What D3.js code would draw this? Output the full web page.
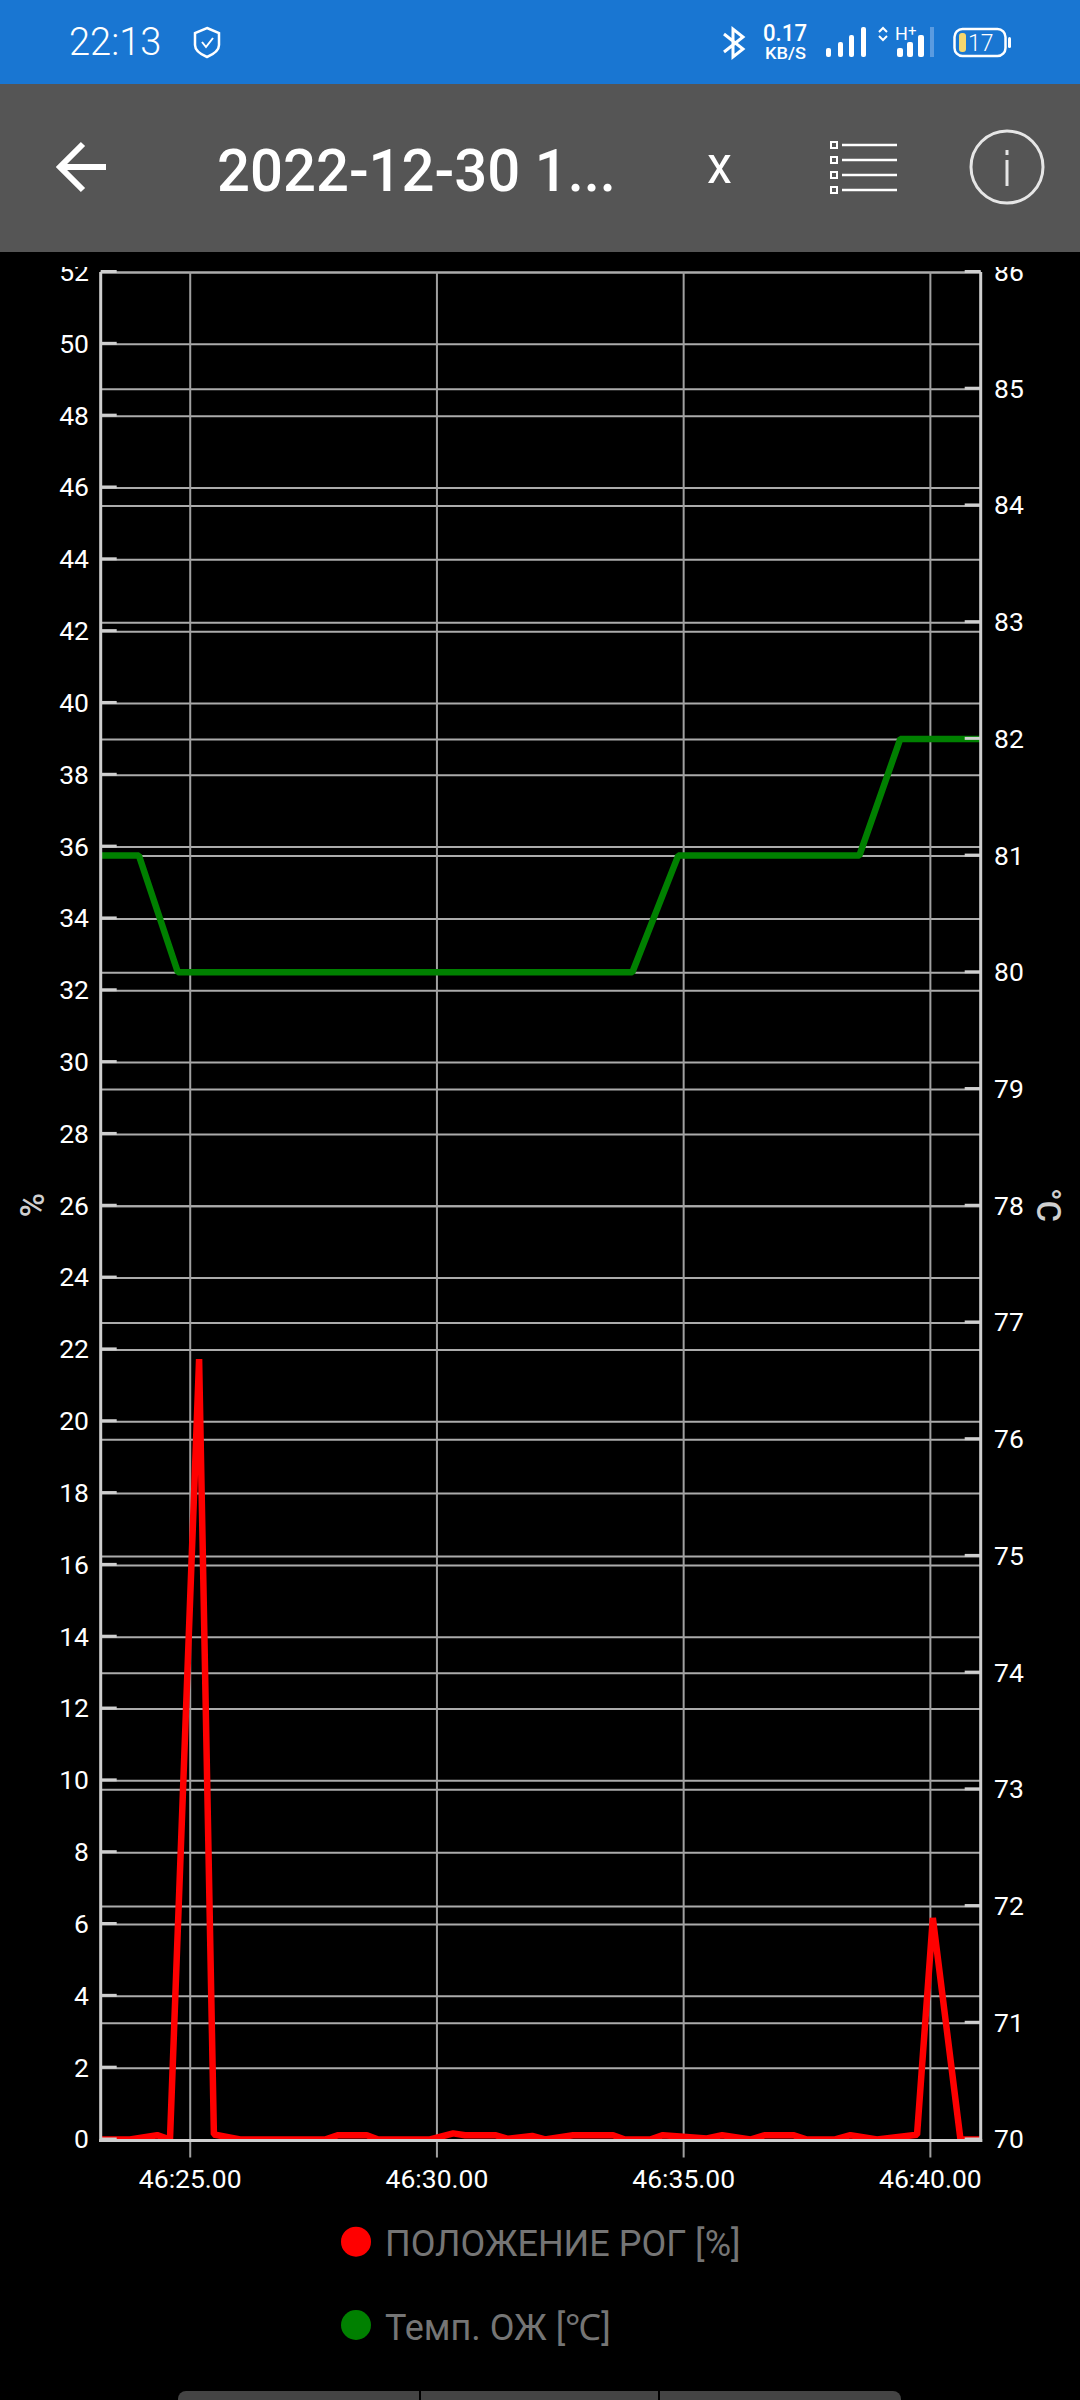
<!DOCTYPE html>
<html>
<head>
<meta charset="utf-8">
<script src="https://cdn.jsdelivr.net/npm/d3@7/dist/d3.min.js"></script>
<style>
html,body{margin:0;padding:0;background:#000;width:1080px;height:2400px;overflow:hidden}
svg{display:block}
text{font-family:Roboto,sans-serif}
</style>
</head>
<body>
<svg id="c" width="1080" height="2400"></svg>
<script>
// ---- data ----
const seriesNames = ["ПОЛОЖЕНИЕ РОГ [%]", "Темп. ОЖ [℃]"];
const seriesColors = ["#ff0000", "#008000"];
const redTimes = [23.196,23.79,24.34,24.60,25.19,25.49,26.02,27.74,28.01,28.59,28.82,29.87,30.34,30.58,31.19,31.45,31.94,32.20,32.77,33.58,33.82,34.33,34.59,35.48,35.79,36.36,36.66,37.23,37.51,38.08,38.39,38.93,39.74,40.06,40.62,41.03];
const redValues = [0,0,0.12,0,21.73,0.14,0,0,0.12,0.12,0,0,0.17,0.12,0.12,0.02,0.1,0,0.12,0.12,0,0,0.12,0.03,0.12,0,0.12,0.12,0,0,0.12,0,0.13,6.17,0,0];
const greenTimes = [23.196,23.97,24.76,33.97,34.9,38.57,39.4,41.03];
const greenValues = [81,81,80,80,81,81,82,82];
const xTicks = [25,30,35,40];
const leftTicks = d3.range(0,53,2);
const rightTicks = d3.range(70,87,1);
const xDomain = [23.196,41.03];
const leftDomain = [0,52];
const rightDomain = [70,86];

// ---- layout ----
const L=100.7,R=980.7,T=272,B=2139.5;
const svg=d3.select("#c");
const x=d3.scaleLinear().domain(xDomain).range([L,R]);
const yL=d3.scaleLinear().domain(leftDomain).range([B,T]);
const yR=d3.scaleLinear().domain(rightDomain).range([B,T]);
const GRID="#ababab",AXIS="#cfcfcf";

// header chrome
svg.append("rect").attr("width",1080).attr("height",84).attr("fill","#1976d2");
svg.append("rect").attr("y",84).attr("width",1080).attr("height",168).attr("fill","#555");
const W="#fff";
svg.append("text").attr("x",69).attr("y",55).attr("font-size",38).attr("font-weight",300).attr("fill",W).text("22:13");
// shield
svg.append("path").attr("d","M207 28 L219 33 V45 Q219 52 207 57 Q195 52 195 45 V33 Z").attr("fill","none").attr("stroke",W).attr("stroke-width",2.5);
svg.append("path").attr("d","M202 42 L206 47 L213 38").attr("fill","none").attr("stroke",W).attr("stroke-width",2);
// bluetooth
svg.append("path").attr("d","M724 34 L743 49 L733 57 V29 L743 37 L724 52").attr("fill","none").attr("stroke",W).attr("stroke-width",3);
svg.append("text").attr("x",763).attr("y",41).attr("font-size",24).attr("font-weight",500).attr("fill",W).attr("textLength",44).attr("lengthAdjust","spacingAndGlyphs").text("0.17");
svg.append("text").attr("x",765).attr("y",59).attr("font-size",17).attr("font-weight",500).attr("fill",W).attr("textLength",41).attr("lengthAdjust","spacingAndGlyphs").text("KB/S");
// signal bars
[[826,48],[838,42],[849,35],[858,27]].forEach(([a,t],i)=>{
  svg.append("rect").attr("x",a+(i==3?3:0)).attr("y",t).attr("width",5).attr("height",57-t).attr("rx",2).attr("fill",W);
});
svg.append("path").attr("d","M879 32 L883 28 L887 32 M879 36 L883 40 L887 36").attr("fill","none").attr("stroke",W).attr("stroke-width",2);
svg.append("text").attr("x",895).attr("y",40).attr("font-size",18).attr("fill",W).text("H");
svg.append("text").attr("x",908).attr("y",36).attr("font-size",15).attr("fill",W).text("+");
[[897,48],[907,42],[918,35]].forEach(([a,t])=>{
  svg.append("rect").attr("x",a).attr("y",t).attr("width",6).attr("height",57-t).attr("rx",2).attr("fill",W);
});
svg.append("rect").attr("x",930).attr("y",27).attr("width",4).attr("height",30).attr("fill","#5a9be0");
// battery
svg.append("rect").attr("x",954.5).attr("y",29).attr("width",51).attr("height",27).attr("rx",8).attr("fill","none").attr("stroke",W).attr("stroke-width",2.5);
svg.append("rect").attr("x",959).attr("y",33).attr("width",7).attr("height",19).attr("rx",3).attr("fill","#f5d76e");
svg.append("rect").attr("x",1008).attr("y",37).attr("width",3).attr("height",11).attr("rx",1.5).attr("fill",W);
svg.append("text").attr("x",968).attr("y",51).attr("font-size",23).attr("font-weight",300).attr("fill",W).text("17");
// toolbar
svg.append("path").attr("d","M106 167 H64 M83 144 L60 167 L83 190").attr("fill","none").attr("stroke",W).attr("stroke-width",6);
svg.append("text").attr("x",217).attr("y",191).attr("font-size",60).attr("font-weight",500).attr("fill",W).attr("textLength",399).attr("lengthAdjust","spacingAndGlyphs").text("2022-12-30 1...");
svg.append("text").attr("x",707).attr("y",183).attr("font-size",54).attr("fill",W).attr("textLength",25).attr("lengthAdjust","spacingAndGlyphs").text("x");
[145,160,175,190].forEach(v=>{
  svg.append("rect").attr("x",831).attr("y",v-3).attr("width",6).attr("height",6).attr("fill","none").attr("stroke",W).attr("stroke-width",2);
  svg.append("line").attr("x1",842).attr("x2",897).attr("y1",v).attr("y2",v).attr("stroke",W).attr("stroke-width",2.5);
});
svg.append("circle").attr("cx",1007).attr("cy",167).attr("r",36).attr("fill","none").attr("stroke","#e6e6e6").attr("stroke-width",3);
svg.append("rect").attr("x",1005.5).attr("y",150).attr("width",3).attr("height",5).attr("fill","#e6e6e6");
svg.append("rect").attr("x",1005.5).attr("y",160).attr("width",3).attr("height",26).attr("fill","#e6e6e6");

// clips
const defs=svg.append("defs");
defs.append("clipPath").attr("id","plot").append("rect").attr("x",L).attr("y",T).attr("width",R-L).attr("height",B-T+0.5);
defs.append("clipPath").attr("id","labels").append("rect").attr("x",0).attr("y",267).attr("width",1080).attr("height",1950);

// grid through axes
const gridL=d3.axisLeft(yL).tickValues(leftTicks).tickSize(-(R-L)).tickFormat("");
const gridR=d3.axisLeft(yR).tickValues(rightTicks).tickSize(-(R-L)).tickFormat("");
[gridL,gridR].forEach(g=>{
  const s=svg.append("g").attr("transform",`translate(${L},0)`).call(g);
  s.select(".domain").remove();
  s.selectAll("line").attr("stroke",GRID).attr("stroke-width",2);
});
const gridX=d3.axisBottom(x).tickValues(xTicks).tickSize(B-T+18).tickFormat("");
const gx=svg.append("g").attr("transform",`translate(0,${T})`).call(gridX);
gx.select(".domain").remove();
gx.selectAll("line").attr("stroke","#a0a0a0").attr("stroke-width",2);

// series
const lineG=svg.append("g").attr("clip-path","url(#plot)");
const line=(ys)=>d3.line().x(d=>x(d[0])).y(d=>ys(d[1]));
lineG.append("path").attr("d",line(yL)(d3.zip(redTimes,redValues)))
  .attr("fill","none").attr("stroke",seriesColors[0]).attr("stroke-width",6.5).attr("stroke-linejoin","bevel");
lineG.append("path").attr("d",line(yR)(d3.zip(greenTimes,greenValues)))
  .attr("fill","none").attr("stroke",seriesColors[1]).attr("stroke-width",6.5).attr("stroke-linejoin","bevel");

// axes on top; labels are cut by the top of the scrolled view
const labelClip=svg.append("g").attr("clip-path","url(#labels)");
function styleAxis(s){
  s.select(".domain").remove();
  s.selectAll("line").attr("stroke",AXIS).attr("stroke-width",3);
  s.selectAll("text").attr("fill","#fff").attr("font-size",26.5).attr("font-family","Roboto,sans-serif").attr("dy","0.355em");
}
const aL=labelClip.append("g").attr("transform",`translate(${L},-1)`)
  .call(d3.axisRight(yL).tickValues(leftTicks).tickSize(16).tickPadding(0).tickFormat(d=>d));
styleAxis(aL);
aL.selectAll("text").attr("text-anchor","end").attr("x",89-L);
const aR=labelClip.append("g").attr("transform",`translate(${R},-1)`)
  .call(d3.axisLeft(yR).tickValues(rightTicks).tickSize(16).tickPadding(0).tickFormat(d=>d));
styleAxis(aR);
aR.selectAll("text").attr("text-anchor","start").attr("x",994-R);

// axis border
svg.append("line").attr("x1",L).attr("x2",L).attr("y1",T).attr("y2",B+2.5).attr("stroke",AXIS).attr("stroke-width",3);
svg.append("line").attr("x1",R).attr("x2",R).attr("y1",T).attr("y2",B+2.5).attr("stroke",AXIS).attr("stroke-width",3);
svg.append("line").attr("x1",L-1.5).attr("x2",R+1.5).attr("y1",B+1).attr("y2",B+1).attr("stroke",AXIS).attr("stroke-width",3);

// x labels
const aX=svg.append("g").attr("transform",`translate(0,${B})`)
  .call(d3.axisBottom(x).tickValues(xTicks).tickSize(0).tickFormat(d=>`46:${d}.00`));
aX.select(".domain").remove();
aX.selectAll("text").attr("fill","#fff").attr("font-size",26.5).attr("font-family","Roboto,sans-serif").attr("y",48.5).attr("dy",0);

// axis titles
svg.append("text").attr("transform","translate(32,1205) rotate(-90)").attr("text-anchor","middle").attr("dy","0.355em").attr("font-size",33).attr("font-weight",500).attr("fill","#cfcfcf").text("%");
svg.append("text").attr("transform","translate(1049,1205) rotate(90)").attr("text-anchor","middle").attr("dy","0.355em").attr("font-size",33).attr("font-weight",500).attr("fill","#cfcfcf").text("°C");

// legend
const legendY=[2241.7,2325];
seriesNames.forEach((n,i)=>{
  svg.append("circle").attr("cx",356).attr("cy",legendY[i]).attr("r",15).attr("fill",seriesColors[i]);
  svg.append("text").attr("x",385).attr("y",legendY[i]+14.5).attr("font-size",36).attr("fill","#757575").text(n);
});

// bottom bar
svg.append("rect").attr("x",178).attr("y",2391).attr("width",723).attr("height",18).attr("rx",8).attr("fill","#444");
[420,659].forEach(v=>svg.append("rect").attr("x",v-1).attr("y",2391).attr("width",2).attr("height",9).attr("fill","#000"));
</script>
</body>
</html>
